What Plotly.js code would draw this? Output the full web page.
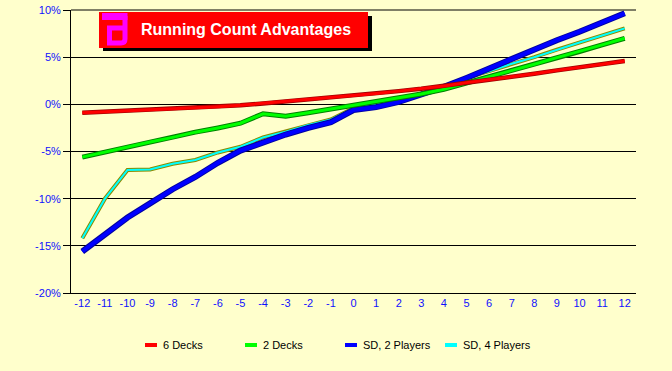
<!DOCTYPE html>
<html>
<head>
<meta charset="utf-8">
<script src="https://cdn.plot.ly/plotly-3.0.1.min.js"></script>
<style>
  html, body { margin: 0; padding: 0; background: #ffffcc; }
  #chart { width: 672px; height: 371px; }
</style>
</head>
<body>
<div id="chart"></div>
<script>
// ---- data (percent advantage by running count) ----
const counts = [-12,-11,-10,-9,-8,-7,-6,-5,-4,-3,-2,-1,0,1,2,3,4,5,6,7,8,9,10,11,12];
const sixDecks = [-0.9,-0.8,-0.7,-0.6,-0.5,-0.35,-0.25,-0.1,0.1,0.3,0.5,0.7,0.95,1.15,1.4,1.65,1.95,2.3,2.6,2.95,3.25,3.6,3.9,4.25,4.6];
const twoDecks = [-5.6,-5.05,-4.5,-4.0,-3.5,-2.95,-2.5,-2.0,-1.0,-1.25,-0.9,-0.5,-0.1,0.25,0.65,1.1,1.6,2.25,2.9,3.6,4.25,4.95,5.6,6.3,7.0];
const sd2Players = [-15.6,-13.8,-12.0,-10.5,-9.0,-7.7,-6.2,-4.9,-4.0,-3.2,-2.5,-1.9,-0.6,-0.3,0.25,1.0,1.85,2.8,3.8,4.8,5.9,6.8,7.7,8.65,9.65];
const sd4Players = [-14.2,-10.0,-6.95,-6.9,-6.3,-5.9,-5.1,-4.5,-3.5,-2.9,-2.2,-1.6,-0.4,0.0,0.5,1.1,1.8,2.8,3.5,4.3,5.0,5.8,6.55,7.3,8.05];
const seriesNames = ["6 Decks", "2 Decks", "SD, 2 Players", "SD, 4 Players"];
const yTickVals = [-20,-15,-10,-5,0,5,10];
const chartTitle = "Running Count Advantages";

// ---- geometry helpers (plot area in pixels) ----
const W = 672, H = 371;
const PL = 71, PR = 636, PT = 10, PB = 293;
const px = x => (x - PL) / (PR - PL);
const py = y => (PB - y) / (PB - PT);
const P = (x, y) => px(x).toFixed(5) + "," + py(y).toFixed(5);

function pair(name, y, color, edge, w, ew) {
  return [
    {x: counts, y: y, type: "scatter", mode: "lines", showlegend: false, hoverinfo: "skip",
     line: {color: edge, width: ew}},
    {x: counts, y: y, type: "scatter", mode: "lines", name: name,
     line: {color: color, width: w}}
  ];
}

// drawn back-to-front: cyan, blue, green, red (red on top)
const data = [].concat(
  pair(seriesNames[3], sd4Players, "#00ffff", "#8a8a00", 2, 4),
  pair(seriesNames[2], sd2Players, "#0000ff", "#0000a0", 4, 6),
  pair(seriesNames[1], twoDecks, "#00ff00", "#008000", 3, 5),
  pair(seriesNames[0], sixDecks, "#ff0000", "#a00000", 3, 4.5)
);

const iconPath = "M " + P(125,16) + " L " + P(125,28) + " L " + P(109.5,28) +
  " L " + P(109.5,43) + " L " + P(121,43) + " Q " + P(125,43) + " " + P(125,39) + " L " + P(125,28);

const layout = {
  width: W, height: H,
  paper_bgcolor: "#ffffcc",
  plot_bgcolor: "#ffffcc",
  margin: {l: PL, r: W - PR, t: PT, b: H - PB, pad: 0},
  font: {family: "Liberation Sans, Arial, sans-serif", size: 11, color: "#000000"},
  xaxis: {
    range: [-12.5, 12.5],
    tickmode: "array", tickvals: counts, ticktext: counts.map(String),
    ticks: "", showgrid: false, zeroline: false,
    showline: true, linecolor: "#000000", linewidth: 1,
    tickfont: {color: "#1010ff", size: 11, family: "Liberation Sans, Arial, sans-serif"},
    fixedrange: true
  },
  yaxis: {
    range: [-20, 10],
    tickmode: "array", tickvals: yTickVals, ticktext: yTickVals.map(v => v + "%"),
    ticks: "outside", ticklen: 7, tickcolor: "#000000", tickwidth: 1,
    showgrid: true, gridcolor: "#000000", gridwidth: 1,
    zeroline: true, zerolinecolor: "#000000", zerolinewidth: 1,
    showline: true, linecolor: "#000000", linewidth: 1,
    tickfont: {color: "#1010ff", size: 11, family: "Liberation Sans, Arial, sans-serif"},
    fixedrange: true
  },
  showlegend: true,
  legend: {
    orientation: "h",
    traceorder: "reversed",
    xref: "container", yref: "container",
    x: 123 / W, y: 1 - 345 / H, xanchor: "left", yanchor: "middle",
    entrywidth: 55, entrywidthmode: "pixels",
    bgcolor: "rgba(0,0,0,0)", borderwidth: 0,
    font: {family: "Liberation Sans, Arial, sans-serif", size: 11, color: "#000000"}
  },
  shapes: [
    {type: "line", xref: "paper", yref: "paper", x0: 0, x1: 1, y0: 1, y1: 1,
     line: {color: "#000000", width: 1}, layer: "below"},
    {type: "rect", xref: "paper", yref: "paper", x0: px(103), x1: px(372), y0: py(51), y1: py(16),
     fillcolor: "#000000", line: {width: 0}, layer: "above"},
    {type: "rect", xref: "paper", yref: "paper", x0: px(99), x1: px(368), y0: py(48), y1: py(12),
     fillcolor: "#ff0000", line: {width: 0}, layer: "above"},
    {type: "rect", xref: "paper", yref: "paper", x0: px(102), x1: px(127.5), y0: py(20), y1: py(13),
     fillcolor: "#ff00ff", line: {width: 0}, layer: "above"},
    {type: "path", xref: "paper", yref: "paper", path: iconPath,
     line: {color: "#ff00ff", width: 5}, layer: "above"}
  ],
  annotations: [
    {xref: "paper", yref: "paper", x: px(139), y: py(30), xanchor: "left", yanchor: "middle",
     text: "<b>" + chartTitle + "</b>", showarrow: false,
     font: {family: "Liberation Sans, Arial, sans-serif", size: 16, color: "#ffffff"}}
  ]
};

Plotly.newPlot("chart", data, layout, {displayModeBar: false, staticPlot: true}).then(function (gd) {
  // short, equally thick legend keys, like the original (12px swatches before the text)
  gd.querySelectorAll(".legend .legendlines path").forEach(function (p) {
    p.setAttribute("d", "M22,0h12");
    p.style.strokeWidth = "4px";
  });
  // let the last entry's text show in full
  gd.querySelectorAll(".legend .scrollbox").forEach(function (g) {
    g.removeAttribute("clip-path");
  });
});
</script>
</body>
</html>
